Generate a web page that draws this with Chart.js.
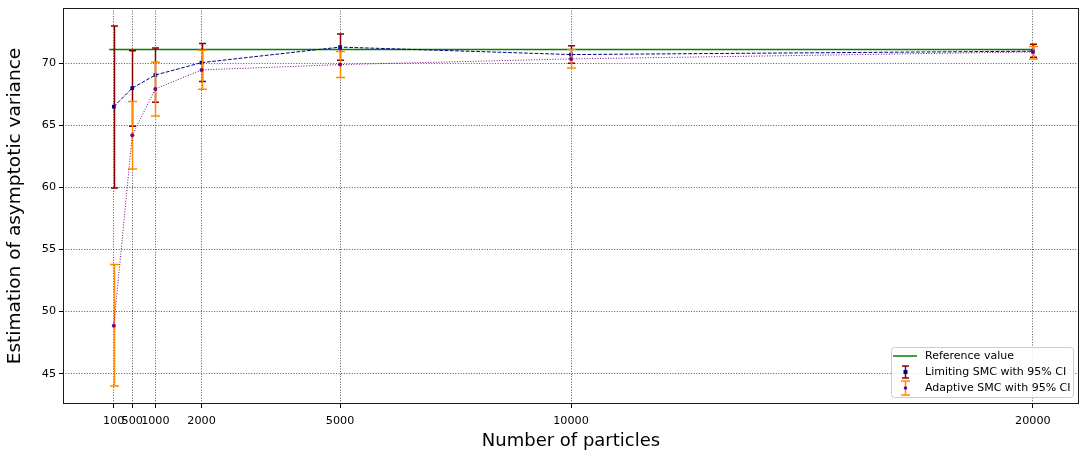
<!DOCTYPE html>
<html>
<head>
<meta charset="utf-8">
<script src="https://cdn.jsdelivr.net/npm/chart.js@4"></script>
<style>
  html, body { margin: 0; padding: 0; background: #fff; }
  canvas { display: block; }
</style>
</head>
<body>
<canvas id="chart" width="1080" height="452"></canvas>
<script>
// values
const particles = [100, 500, 1000, 2000, 5000, 10000, 20000];
const xTicks = [100, 500, 1000, 2000, 5000, 10000, 20000];
const yTicks = [45, 50, 55, 60, 65, 70];

const limitingMean = [66.5, 68.0, 69.05, 70.05, 71.3, 70.7, 70.97];
const limitingLow  = [59.95, 64.92, 66.86, 68.53, 70.24, 70.0, 70.48];
const limitingHigh = [73.0, 71.0, 71.23, 71.6, 72.36, 71.4, 71.53];

const adaptiveMean = [48.86, 64.2, 67.93, 69.46, 69.89, 70.35, 70.91];
const adaptiveLow  = [43.99, 61.48, 65.75, 67.9, 68.85, 69.62, 70.35];
const adaptiveHigh = [53.78, 66.91, 70.08, 71.05, 70.94, 71.1, 71.34];

const referenceValue = 71.1;
const referenceSpan = [0, 20000];

const FONT = "'DejaVu Sans', sans-serif";
Chart.defaults.font.family = FONT;
Chart.defaults.color = '#000';

const errorBars = {
  1: { low: limitingLow, high: limitingHigh, color: '#8b0000', cap: 3.5 },
  2: { low: adaptiveLow, high: adaptiveHigh, color: '#ff8c00', cap: 4.5 },
};

// error bars drawn just before their own series, like matplotlib's errorbar()
const errorBarPlugin = {
  id: 'errorBars',
  beforeDatasetDraw(chart, args) {
    const eb = errorBars[args.index];
    if (!eb) return;
    const { ctx, scales: { x, y } } = chart;
    ctx.save();
    ctx.strokeStyle = eb.color;
    ctx.lineWidth = 1.5;
    particles.forEach((n, i) => {
      const px = Math.round(x.getPixelForValue(n)) + 0.5;
      const y1 = y.getPixelForValue(eb.low[i]);
      const y2 = y.getPixelForValue(eb.high[i]);
      ctx.beginPath();
      ctx.moveTo(px, y1); ctx.lineTo(px, y2);
      ctx.moveTo(px - eb.cap, y1); ctx.lineTo(px + eb.cap, y1);
      ctx.moveTo(px - eb.cap, y2); ctx.lineTo(px + eb.cap, y2);
      ctx.stroke();
    });
    ctx.restore();
  }
};

const framePlugin = {
  id: 'frameAndLegend',
  afterDraw(chart) {
    const { ctx, chartArea: a } = chart;
    ctx.save();
    ctx.strokeStyle = '#1a1a1a';
    ctx.lineWidth = 1;
    ctx.strokeRect(Math.round(a.left) + 0.5, Math.round(a.top) + 0.5,
      Math.round(a.right - a.left) - 1, Math.round(a.bottom - a.top) - 1);

    // legend box, lower right
    const bx = 891, by = 347, bw = 182, bh = 50;
    ctx.beginPath();
    ctx.roundRect(bx + 0.5, by + 0.5, bw, bh, 3);
    ctx.fillStyle = 'rgba(255,255,255,0.85)';
    ctx.fill();
    ctx.strokeStyle = '#cccccc';
    ctx.stroke();

    const hx = 905;
    ctx.strokeStyle = 'green';
    ctx.lineWidth = 1.5;
    ctx.beginPath(); ctx.moveTo(893, 356); ctx.lineTo(917, 356); ctx.stroke();
    const handle = (cy, half, cap, col, mark, square) => {
      ctx.strokeStyle = col; ctx.lineWidth = 1.5;
      ctx.beginPath();
      ctx.moveTo(hx + 0.5, cy - half); ctx.lineTo(hx + 0.5, cy + half);
      ctx.moveTo(hx + 0.5 - cap, cy - half); ctx.lineTo(hx + 0.5 + cap, cy - half);
      ctx.moveTo(hx + 0.5 - cap, cy + half); ctx.lineTo(hx + 0.5 + cap, cy + half);
      ctx.stroke();
      ctx.fillStyle = mark;
      if (square) ctx.fillRect(hx - 1.5, cy - 2, 4, 4);
      else { ctx.beginPath(); ctx.arc(hx + 0.5, cy, 1.8, 0, Math.PI * 2); ctx.fill(); }
    };
    handle(372, 6, 3.5, '#8b0000', '#00008b', true);
    handle(388, 7, 4.5, '#ff8c00', '#800080', false);

    ctx.fillStyle = '#000';
    ctx.font = "11px " + FONT;
    ctx.textBaseline = 'middle';
    ctx.fillText('Reference value', 925, 356);
    ctx.fillText('Limiting SMC with 95% CI', 925, 372);
    ctx.fillText('Adaptive SMC with 95% CI', 925, 388);
    ctx.restore();
  }
};

new Chart(document.getElementById('chart').getContext('2d'), {
  type: 'scatter',
  data: {
    datasets: [
      {
        label: 'Reference value',
        data: referenceSpan.map(v => ({ x: v, y: referenceValue })),
        showLine: true,
        borderColor: 'green',
        borderWidth: 1.5,
        pointRadius: 0,
        order: 3,
      },
      {
        label: 'Limiting SMC with 95% CI',
        data: particles.map((n, i) => ({ x: n, y: limitingMean[i] })),
        showLine: true,
        borderColor: '#00008b',
        borderWidth: 1,
        borderDash: [3.7, 1.6],
        pointStyle: 'rect',
        pointRadius: 2.6,
        pointBackgroundColor: '#00008b',
        pointBorderColor: '#00008b',
        pointBorderWidth: 0,
        order: 2,
      },
      {
        label: 'Adaptive SMC with 95% CI',
        data: particles.map((n, i) => ({ x: n, y: adaptiveMean[i] })),
        showLine: true,
        borderColor: '#800080',
        borderWidth: 1,
        borderDash: [1, 1.65],
        pointStyle: 'circle',
        pointRadius: 2,
        pointBackgroundColor: '#800080',
        pointBorderWidth: 0,
        order: 1,
      },
    ]
  },
  options: {
    responsive: false,
    animation: false,
    devicePixelRatio: 1,
    layout: { autoPadding: false, padding: { top: 8, right: 1, left: 0, bottom: 0 } },
    plugins: { legend: { display: false }, tooltip: { enabled: false } },
    scales: {
      x: {
        type: 'linear',
        min: -1000,
        max: 21000,
        afterBuildTicks: s => { s.ticks = xTicks.map(v => ({ value: v })); },
        afterFit: s => { s.height = 48; s.paddingLeft = 0; s.paddingRight = 0; },
        ticks: { font: { size: 11.2 }, padding: 6, maxRotation: 0, autoSkip: false, callback: v => String(v) },
        grid: { color: 'rgba(0,0,0,0.85)', lineWidth: 0.8, tickLength: 4, tickColor: '#000', tickWidth: 1 },
        border: { display: false, dash: [1, 1.65] },
        title: { display: true, text: 'Number of particles', font: { size: 18 }, padding: { top: 0, bottom: 0 } },
      },
      y: {
        min: 42.55,
        max: 74.45,
        afterBuildTicks: s => { s.ticks = yTicks.map(v => ({ value: v })); },
        afterFit: s => { s.width = 63; s.paddingTop = 0; s.paddingBottom = 0; },
        ticks: { font: { size: 11.2 }, padding: 3 },
        grid: { color: 'rgba(0,0,0,0.85)', lineWidth: 0.8, tickLength: 4, tickColor: '#000', tickWidth: 1 },
        border: { display: false, dash: [1, 1.65] },
        title: { display: true, text: 'Estimation of asymptotic variance', font: { size: 18.5 }, padding: { top: 4, bottom: 0 } },
      }
    }
  },
  plugins: [errorBarPlugin, framePlugin]
});
</script>
</body>
</html>
